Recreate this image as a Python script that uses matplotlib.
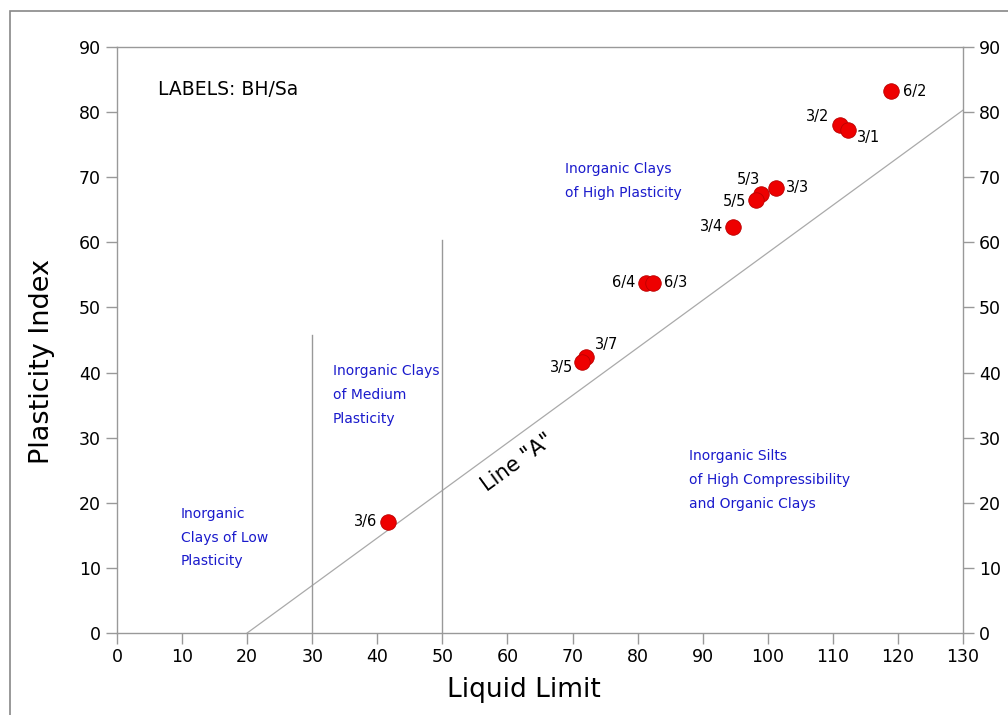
import numpy as np
import matplotlib.pyplot as plt
from matplotlib.patches import Rectangle

# Sample labels (borehole / sample) and Atterberg limits
labels = ['6/2', '3/2', '3/1', '5/3', '3/3', '5/5', '3/4', '6/4', '6/3', '3/7', '3/5', '3/6']
liquid_limit = [118.9, 111.1, 112.3, 99.0, 101.2, 98.2, 94.7, 81.3, 82.4, 72.0, 71.5, 41.7]
plasticity_index = [83.2, 78.0, 77.3, 67.5, 68.4, 66.5, 62.4, 53.8, 53.8, 42.4, 41.6, 17.1]

# Line A: PI = 0.73 (LL - 20)
line_a_ll = [20, 130]
line_a_pi = [0.73 * (v - 20) for v in line_a_ll]

# vertical zone dividers (LL, top PI)
div_ll = [30, 50]
div_top = [45.7, 60.3]

zone_text = [
    (68.8, 72.3, 'Inorganic Clays\nof High Plasticity'),
    (33.2, 41.3, 'Inorganic Clays\nof Medium\nPlasticity'),
    (87.9, 28.2, 'Inorganic Silts\nof High Compressibility\nand Organic Clays'),
    (9.8, 19.4, 'Inorganic\nClays of Low\nPlasticity'),
]

# label placement around each point (offset in points, alignment)
label_pos = {
    '6/2': (8.5, 0, 'left', 'center'),
    '3/2': (-8, 1, 'right', 'bottom'),
    '3/1': (6.5, 0, 'left', 'top'),
    '5/3': (-1, 5, 'right', 'bottom'),
    '3/3': (7.5, 0, 'left', 'center'),
    '5/5': (-7, -1, 'right', 'center'),
    '3/4': (-7, 0, 'right', 'center'),
    '6/4': (-8, 0, 'right', 'center'),
    '6/3': (8, 0, 'left', 'center'),
    '3/7': (7, 3.5, 'left', 'bottom'),
    '3/5': (-6.5, -4, 'right', 'center'),
    '3/6': (-8, 0, 'right', 'center'),
}

fig = plt.figure(figsize=(10.08, 7.15), dpi=100)
fig.patches.append(Rectangle((10 / 1008, -0.1), 1.2, 1 - 11 / 715 + 0.1,
                             transform=fig.transFigure, fill=False,
                             edgecolor='#888888', linewidth=1.2))
ax = fig.add_axes([117 / 1008, 1 - 633 / 715, (963 - 117) / 1008, (633 - 47) / 715])

ax.set_xlim(0, 130)
ax.set_ylim(0, 90)
ax.set_xticks(np.arange(0, 131, 10))
ax.set_yticks(np.arange(0, 91, 10))
for s in ax.spines.values():
    s.set_color('#999999')
    s.set_linewidth(1.0)
ax.tick_params(axis='both', colors='#999999', labelcolor='black', labelsize=12.5,
               length=8, width=1.0, direction='out')
ax.tick_params(axis='y', right=True, labelright=True)
ax.tick_params(axis='x', pad=3)

ax.plot(line_a_ll, line_a_pi, color='#aaaaaa', linewidth=0.9)
for x, top in zip(div_ll, div_top):
    ax.plot([x, x], [0, top], color='#999999', linewidth=1.0)

ax.scatter(liquid_limit, plasticity_index, s=125, color='#ee0000',
           edgecolors='#bb0000', linewidths=0.6, zorder=5)

for lab, x, y in zip(labels, liquid_limit, plasticity_index):
    dx, dy, ha, va = label_pos[lab]
    ax.annotate(lab, (x, y), xytext=(dx, dy), textcoords='offset points',
                ha=ha, va=va, fontsize=10.5, color='black')

for x, y, t in zone_text:
    ax.text(x, y, t, color='#1a1acc', fontsize=10, ha='left', va='top', linespacing=1.9)

ax.text(6.3, 83.5, 'LABELS: BH/Sa', fontsize=13.5, ha='left', va='center')
ax.text(61.5, 26.1, 'Line "A"', fontsize=15, rotation=36, ha='center', va='center',
        rotation_mode='anchor')

ax.set_xlabel('Liquid Limit', fontsize=19)
ax.xaxis.set_label_coords((523.5 - 117) / 846, -0.075)
ax.set_ylabel('Plasticity Index', fontsize=19.5)
ax.yaxis.set_label_coords((55 - 117) / 846, (633 - 361) / 586)

fig.savefig('out.png', dpi=100)
